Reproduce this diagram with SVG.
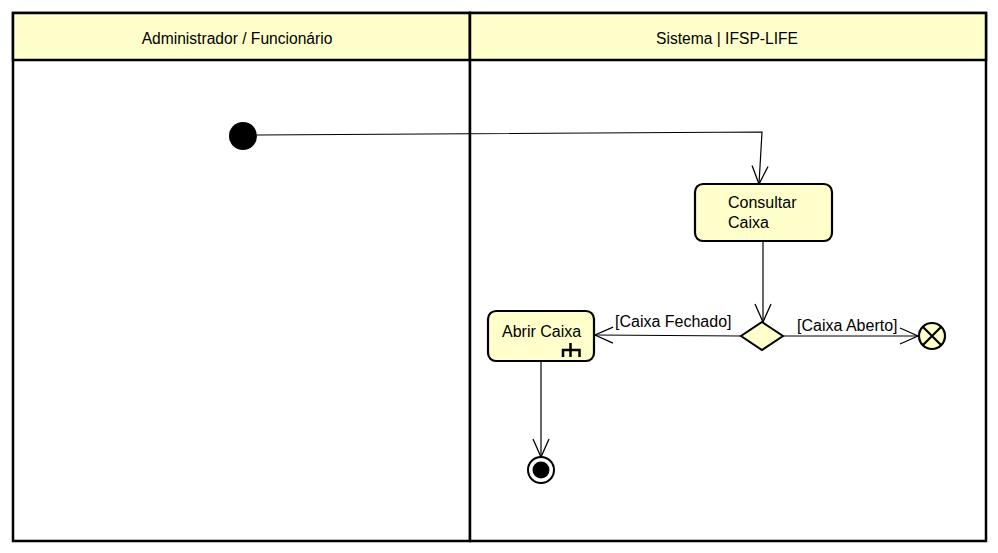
<svg xmlns="http://www.w3.org/2000/svg" width="998" height="553" viewBox="0 0 998 553">
<defs>
<style>
.lane{fill:#fff;stroke:#000;stroke-width:2.5}
.hdr{fill:#ffffcc;stroke:#000;stroke-width:2.5}
.act{fill:#ffffcc;stroke:#000;stroke-width:2.2}
.t{font-family:"Liberation Sans",Arial,sans-serif;font-size:16px;fill:#000}
.h{font-family:"Liberation Sans",Arial,sans-serif;font-size:15.6px;fill:#000;text-anchor:middle}
.c{fill:none;stroke:#000;stroke-width:1.2}
</style>
<marker id="open" viewBox="0 0 20 20" refX="19" refY="10" markerWidth="20" markerHeight="20" markerUnits="userSpaceOnUse" orient="auto">
<path d="M1,2 L19,10 L1,18" fill="none" stroke="#000" stroke-width="1.3"/>
</marker>
</defs>
<rect width="998" height="553" fill="#fff"/>
<g id="lane-admin">
<rect class="lane" x="13" y="13" width="457" height="528"/>
<rect class="hdr" x="13" y="13" width="457" height="47"/>
<text class="h" x="237" y="44">Administrador / Funcionário</text>
</g>
<g id="lane-sistema">
<rect class="lane" x="470" y="13" width="516" height="528"/>
<rect class="hdr" x="470" y="13" width="516" height="47"/>
<text class="h" x="727" y="44">Sistema | IFSP-LIFE</text>
</g>
<g id="connectors">
<polyline class="c" points="257,135 762,132 759,184" marker-end="url(#open)"/>
<line class="c" x1="763" y1="241" x2="763" y2="322" marker-end="url(#open)"/>
<line class="c" x1="741" y1="336" x2="595" y2="335" marker-end="url(#open)"/>
<line class="c" x1="783" y1="336" x2="918" y2="336" marker-end="url(#open)"/>
<line class="c" x1="541" y1="361" x2="541" y2="457" marker-end="url(#open)"/>
<text class="t" x="615" y="327">[Caixa Fechado]</text>
<text class="t" x="797" y="331">[Caixa Aberto]</text>
</g>
<g id="initial">
<circle cx="243" cy="136" r="14" fill="#000"/>
</g>
<g id="consultar-caixa">
<rect class="act" x="695" y="184" width="137" height="57" rx="8"/>
<text class="t" x="728" y="208">Consultar</text>
<text class="t" x="728" y="228">Caixa</text>
</g>
<g id="decision">
<polygon points="762,322 783,336 762,350 741,336" fill="#ffffcc" stroke="#000" stroke-width="2"/>
</g>
<g id="flow-final">
<circle cx="932" cy="336" r="13" fill="#ffffcc" stroke="#000" stroke-width="2.2"/>
<path d="M923,327 L941,345 M941,327 L923,345" stroke="#000" stroke-width="2.2"/>
</g>
<g id="abrir-caixa">
<rect class="act" x="488" y="311" width="106" height="50" rx="8"/>
<text class="t" x="502" y="337">Abrir Caixa</text>
<path d="M570.5,343 V350 M563,357 V350 H579.5 V357 M570.5,350 V357" fill="none" stroke="#000" stroke-width="2.5"/>
</g>
<g id="final">
<circle cx="541" cy="470" r="13" fill="#fff" stroke="#000" stroke-width="2"/>
<circle cx="541" cy="470" r="8.5" fill="#000"/>
</g>
</svg>
